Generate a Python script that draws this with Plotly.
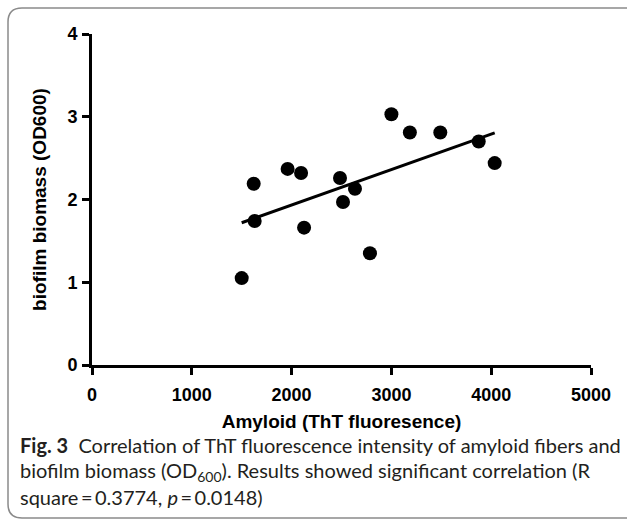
import numpy as np
import plotly.graph_objects as go

# ---- data ----
amyloid = [1500, 1620, 1630, 1960, 2095, 2125, 2485, 2515, 2635, 2785, 3000, 3185, 3490, 3875, 4035]
biomass = [1.05, 2.19, 1.74, 2.37, 2.32, 1.66, 2.26, 1.97, 2.13, 1.35, 3.03, 2.81, 2.81, 2.70, 2.44]
x_ticks = [0, 1000, 2000, 3000, 4000, 5000]
y_ticks = [0, 1, 2, 3, 4]

slope, intercept = np.polyfit(amyloid, biomass, 1)
fit_x = [min(amyloid), max(amyloid)]
fit_y = [slope * v + intercept for v in fit_x]

W, H = 627, 523
L, R, T, B = 92, 36, 34, 158
pw, ph = W - L - R, H - T - B

def px(x):
    return (x - L) / pw

def py(y):
    return (H - B - y) / ph

fig = go.Figure()
fig.add_trace(go.Scatter(x=fit_x, y=fit_y, mode="lines",
                         line=dict(color="black", width=3), showlegend=False))
fig.add_trace(go.Scatter(x=amyloid, y=biomass, mode="markers",
                         marker=dict(color="black", size=14), showlegend=False))

tickfont = dict(family="Liberation Sans", size=18, color="black", weight="bold")
fig.update_xaxes(range=[0, 5000], tickvals=x_ticks, showgrid=False, zeroline=False,
                 showline=True, linecolor="black", linewidth=3,
                 ticks="outside", ticklen=7, tickwidth=3, tickcolor="black",
                 tickfont=tickfont, ticklabelstandoff=4,
                 title=dict(text="<b>Amyloid (ThT fluoresence)</b>",
                            font=dict(family="Liberation Sans", size=19, color="black"),
                            standoff=12))
fig.update_yaxes(range=[0, 4], tickvals=y_ticks, showgrid=False, zeroline=False,
                 showline=True, linecolor="black", linewidth=3,
                 ticks="outside", ticklen=7, tickwidth=3, tickcolor="black",
                 tickfont=tickfont, ticklabelstandoff=1,
                 title=dict(text="<b>biofilm biomass (OD600)</b>",
                            font=dict(family="Liberation Sans", size=19, color="black"),
                            standoff=16))

# rounded border
x0, x1 = px(8), px(660)
y0, y1 = py(518), py(8)
rx, ry = 14 / pw, 14 / ph
path = (f"M {x0+rx},{y1} L {x1},{y1} L {x1},{y0} L {x0+rx},{y0} "
        f"Q {x0},{y0} {x0},{y0+ry} L {x0},{y1-ry} Q {x0},{y1} {x0+rx},{y1} Z")
fig.add_shape(type="path", path=path, xref="paper", yref="paper",
              line=dict(color="#8a8a8a", width=1.5), layer="below")

capfont = dict(family="Lato", size=20, color="#231f20")
lines = [
    (445, "<b>Fig. 3</b>  Correlation of ThT fluorescence intensity of amyloid fibers and"),
    (471, "biofilm biomass (OD<sub>600</sub>). Results showed significant correlation (R"),
    (497, "square\u2009=\u20090.3774, <i>p</i>\u2009=\u20090.0148)"),
]
for yy, txt in lines:
    fig.add_annotation(text=txt, xref="paper", yref="paper", x=px(18), y=py(yy),
                       xanchor="left", yanchor="middle", showarrow=False, font=capfont)

fig.update_layout(width=W, height=H, margin=dict(l=L, r=R, t=T, b=B),
                  plot_bgcolor="white", paper_bgcolor="white")
fig.write_html("out.html", config={"displayModeBar": False},
               post_script="document.body.style.margin='0';")
